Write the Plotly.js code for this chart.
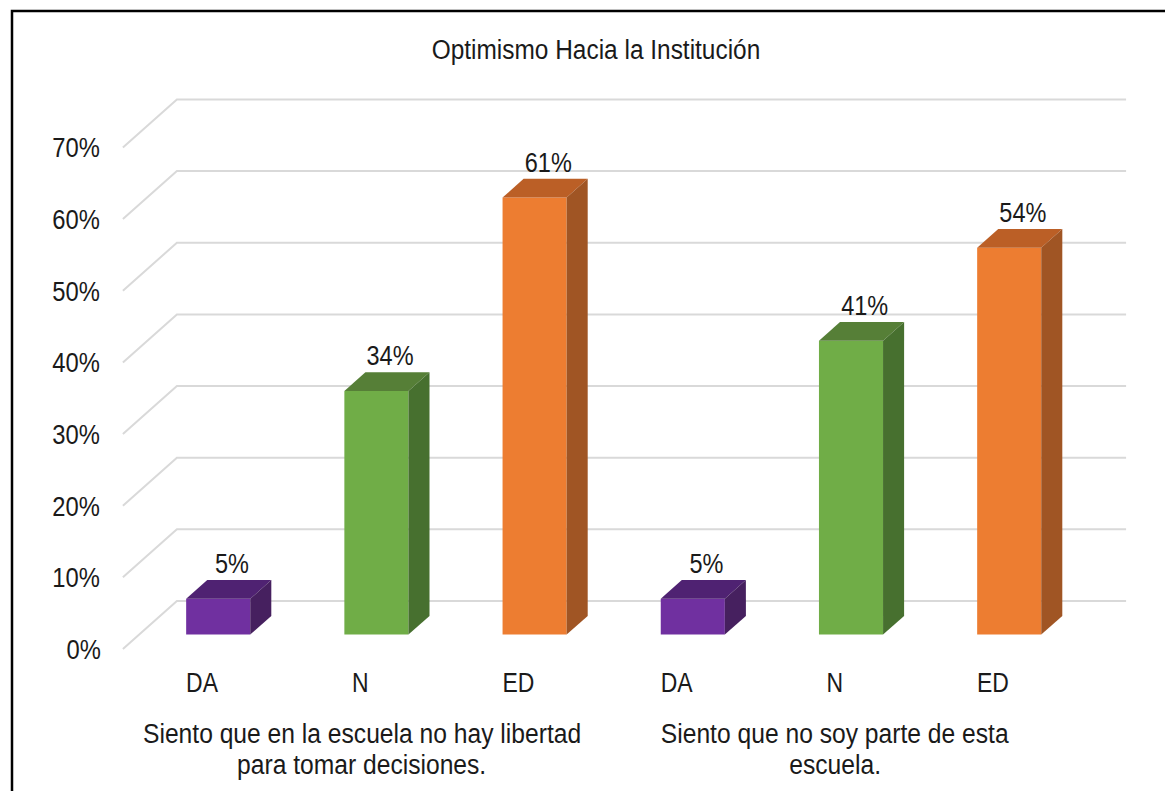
<!DOCTYPE html>
<html><head><meta charset="utf-8">
<script src="https://cdn.plot.ly/plotly-3.0.1.min.js"></script>
<style>html,body{margin:0;padding:0;background:#fff}#c{width:1165px;height:791px}</style>
</head><body><div id="c"></div>
<script>
const categories = ["DA","N","ED","DA","N","ED"];
const values = [5,34,61,5,41,54];
const colorFront = ["#7030a0","#70ad47","#ed7d31","#7030a0","#70ad47","#ed7d31"];
const colorTop   = ["#4f2272","#567f37","#bb5f26","#4f2272","#567f37","#bb5f26"];
const colorSide  = ["#46205f","#47702f","#a05524","#46205f","#47702f","#a05524"];
const groupLines = [["Siento que en la escuela no hay libertad","para tomar decisiones."],["Siento que no soy parte de esta","escuela."]];
const groupCenters = [1.01,4];
const yTicks = [0,10,20,30,40,50,60,70];
const titleText = "Optimismo Hacia la Institución";

const W=1165,H=791,L=105,R=1140,T=90,B=663;
const pxX=158.2, pxY=7.165, x0=202, y0=649;
const xr=[(L-x0)/pxX,(R-x0)/pxX], yr=[(y0-B)/pxY,(y0-T)/pxY];
const depthX=54/pxX, depthY=48/pxY;          // full wall depth
const front=0.30, back=0.69;                 // bar depth positions
const bw=0.405;
const FONT='"Liberation Sans",Arial,sans-serif';
const INK='#1a1a1a';
const fx=p=>(p-L)/(R-L), fy=p=>(B-p)/(B-T);

const shapes=yTicks.map(v=>({type:'path',layer:'below',xref:'x',yref:'y',
  path:`M${-0.5},${v} L${-0.5+depthX},${v+depthY} L${5.5+depthX},${v+depthY}`,
  line:{color:'#d9d9d9',width:2}}));
shapes.push({type:'path',xref:'paper',yref:'paper',
  path:`M${fx(12)},${fy(791)} L${fx(12)},${fy(11)} L${fx(1165)},${fy(11)}`,
  line:{color:'#000',width:2.5}});

const xs=categories.map((_,i)=>i+front*depthX);
const bases=categories.map(()=>front*depthY);
const traces=[{type:'bar',x:xs,y:values,base:bases,width:bw,
  marker:{color:colorFront,line:{width:0}},hoverinfo:'skip',showlegend:false}];
const dX=(back-front)*depthX, dY=(back-front)*depthY;
values.forEach((v,i)=>{
  const a=xs[i]-bw/2,b=xs[i]+bw/2,t=v+bases[i],u=bases[i];
  traces.push({type:'scatter',mode:'lines',fill:'toself',fillcolor:colorTop[i],line:{width:0},
    x:[a,b,b+dX,a+dX,a],y:[t,t,t+dY,t+dY,t],hoverinfo:'skip',showlegend:false});
  traces.push({type:'scatter',mode:'lines',fill:'toself',fillcolor:colorSide[i],line:{width:0},
    x:[b,b+dX,b+dX,b,b],y:[u,u+dY,t+dY,t,u],hoverinfo:'skip',showlegend:false});
});
traces.push({type:'scatter',mode:'text',x:xs.map(x=>x+dX/2+0.02),y:values.map((v,i)=>v+bases[i]+dY),
  text:values.map(v=>v+'%'),textposition:'top center',
  textfont:{family:FONT,size:28,color:INK},hoverinfo:'skip',showlegend:false});

const annotations=[];
groupLines.forEach((lines,g)=>lines.forEach((t,k)=>annotations.push({text:t,xref:'x',x:groupCenters[g],
  yref:'paper',y:fy(733+31.5*k),yanchor:'middle',xanchor:'center',showarrow:false,
  font:{family:FONT,size:28,color:INK}})));

const layout={width:W,height:H,margin:{l:L,r:W-R,t:T,b:H-B,pad:0},
  paper_bgcolor:'#fff',plot_bgcolor:'#fff',showlegend:false,
  title:{text:titleText,font:{family:FONT,size:28,color:INK},x:596/W,xanchor:'center',y:1-49/H,yanchor:'middle'},
  xaxis:{range:xr,tickmode:'array',tickvals:categories.map((_,i)=>i),ticktext:categories,
    showgrid:false,zeroline:false,showline:false,ticks:'',tickfont:{family:FONT,size:28,color:INK},tickangle:0},
  yaxis:{range:yr,tickmode:'array',tickvals:yTicks,ticktext:yTicks.map(v=>v+'%'),
    showgrid:false,zeroline:false,showline:false,ticks:'',tickfont:{family:FONT,size:28,color:INK}},
  shapes,annotations
};
// The reference's lettering is condensed: squeeze each text horizontally about its centre.
const squeeze=[['.gtitle',0.873],['.xtick text',0.82],['.ytick text',0.85],['.annotation-text',0.88],['.textpoint text',0.84]];
Plotly.newPlot('c',traces,layout,{displayModeBar:false,staticPlot:true}).then(gd=>{
  squeeze.forEach(([sel,s])=>gd.querySelectorAll(sel).forEach(el=>{
    const b=el.getBBox(), cx=b.x+b.width/2, prev=el.getAttribute('transform')||'';
    el.setAttribute('transform',`${prev} translate(${cx},0) scale(${s},1) translate(${-cx},0)`);
  }));
});
</script></body></html>
